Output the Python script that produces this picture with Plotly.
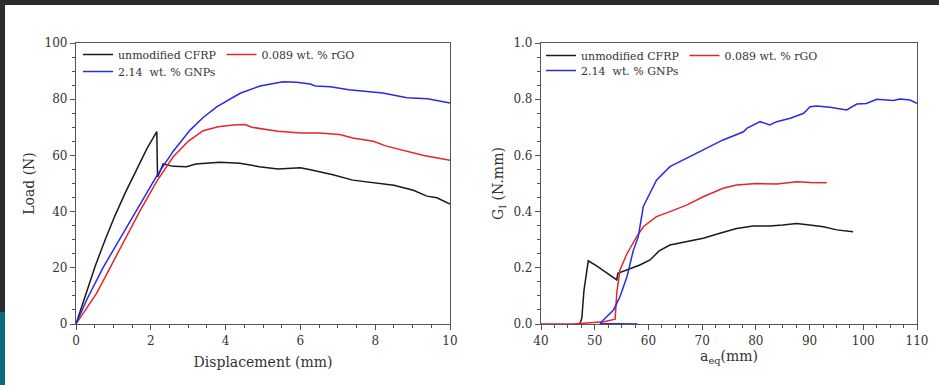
import plotly.graph_objects as go

# ---------------- data: Load vs Displacement ----------------
disp_cfrp = [0, 0.25, 0.51, 0.78, 1.04, 1.31, 1.66, 1.9, 2.16, 2.18, 2.22, 2.33, 2.6, 2.96, 3.2, 3.85,
             4.38, 4.9, 5.4, 6.0, 6.3, 6.87, 7.4, 7.95, 8.5, 9.02, 9.38, 9.65, 10.0]
load_cfrp = [0, 10, 20.5, 30, 38.5, 46.5, 56, 62.5, 68.5, 52.3, 53.5, 57.0, 56.1, 56.0, 56.9, 57.6,
             57.2, 56.0, 55.2, 55.6, 54.8, 53.1, 51.2, 50.2, 49.4, 47.6, 45.5, 44.9, 42.7]

disp_rgo = [0, 0.3, 0.55, 0.91, 1.3, 1.7, 2.17, 2.6, 3.0, 3.4, 3.8, 4.2, 4.52, 4.7, 5.4, 6.0, 6.5,
            7.05, 7.4, 7.95, 8.3, 8.84, 9.3, 10.0]
load_rgo = [0, 6.2, 10.9, 20, 30, 40, 51, 59.5, 65, 68.8, 70.2, 70.8, 71.0, 70.0, 68.6, 68.0, 68.0,
            67.4, 66.2, 65.0, 63.3, 61.4, 60.0, 58.3]

disp_gnp = [0, 0.3, 0.72, 1.2, 1.7, 2.17, 2.6, 3.05, 3.4, 3.76, 4.39, 4.92, 5.54, 5.9, 6.26, 6.4,
            6.8, 7.3, 8.2, 8.85, 9.4, 10.0]
load_gnp = [0, 9, 20, 31, 42, 53, 61.5, 69, 73.5, 77.3, 82.1, 84.7, 86.2, 86.0, 85.4, 84.7,
            84.4, 83.4, 82.2, 80.5, 80.2, 78.6]

# ---------------- data: G_I vs a_eq ----------------
aeq_cfrp = [47.2, 47.6, 48.0, 48.8, 50.5, 52.5, 54.1, 54.3, 56.0, 58.4, 60.3, 62.0, 64.0, 67.1, 70.2,
            73.3, 76.4, 79.5, 82.6, 85.0, 87.6, 90.0, 92.6, 95.05, 98.1]
gi_cfrp = [0.0, 0.02, 0.12, 0.225, 0.205, 0.18, 0.157, 0.18, 0.192, 0.21, 0.228, 0.26, 0.281, 0.293,
           0.305, 0.323, 0.34, 0.349, 0.349, 0.352, 0.358, 0.352, 0.346, 0.335, 0.328]

aeq_rgo = [40.0, 46.0, 51.7, 53.8, 54.1, 54.7, 56.0, 57.8, 59.05, 61.5, 64.0, 67.1, 70.2, 73.9, 76.4,
           80.1, 83.9, 87.6, 90.1, 93.2]
gi_rgo = [0.0, 0.0, 0.008, 0.017, 0.109, 0.192, 0.25, 0.31, 0.346, 0.382, 0.4, 0.423, 0.453, 0.483,
          0.495, 0.5, 0.498, 0.506, 0.504, 0.503]

aeq_gnp = [58.0, 51.0, 51.6, 53.5, 54.7, 56.0, 57.2, 58.1, 59.05, 61.5, 64.0, 67.1, 70.2, 73.9, 77.7,
           78.3, 80.8, 82.6, 83.9, 86.4, 88.9, 90.1, 91.3, 93.8, 96.9, 98.8, 100.6, 102.5, 105.6,
           106.8, 108.7, 110.0]
gi_gnp = [0.0, 0.002, 0.014, 0.05, 0.097, 0.168, 0.263, 0.31, 0.418, 0.512, 0.56, 0.59, 0.62, 0.655,
          0.684, 0.696, 0.72, 0.708, 0.72, 0.732, 0.75, 0.773, 0.776, 0.771, 0.762, 0.783, 0.785,
          0.8, 0.795, 0.801, 0.797, 0.785]

names = ["unmodified CFRP", "0.089 wt. % rGO", "2.14  wt. % GNPs"]
colors = ["#1a1a1a", "#e8242a", "#2a2ae6"]

FONT = "DejaVu Serif"
TXT = "#333333"
AX = "#555555"

fig = go.Figure()
left = [(disp_cfrp, load_cfrp), (disp_rgo, load_rgo), (disp_gnp, load_gnp)]
right = [(aeq_cfrp, gi_cfrp), (aeq_rgo, gi_rgo), (aeq_gnp, gi_gnp)]
left_leg = ["legend", "legend", "legend2"]
right_leg = ["legend3", "legend3", "legend4"]
for i, (xs, ys) in enumerate(left):
    fig.add_trace(go.Scatter(x=xs, y=ys, mode="lines", name=names[i],
                             line=dict(color=colors[i], width=1.5),
                             xaxis="x", yaxis="y", legend=left_leg[i]))
for i, (xs, ys) in enumerate(right):
    fig.add_trace(go.Scatter(x=xs, y=ys, mode="lines", name=names[i],
                             line=dict(color=colors[i], width=1.5),
                             xaxis="x2", yaxis="y2", legend=right_leg[i]))

W, H = 939, 385
L, R, T, B = 76, 22, 43, 61
pw = W - L - R
ph = H - T - B

def px_x(p):
    return (p - L) / pw

def px_y(p):
    return (H - B - p) / ph

axis_common = dict(showline=True, linecolor=AX, linewidth=1.2, mirror=True,
                   ticks="outside", ticklen=5, tickcolor=AX, tickwidth=1,
                   showgrid=False, zeroline=False,
                   tickfont=dict(family=FONT, size=12, color=TXT))

fig.update_layout(
    width=W, height=H,
    margin=dict(l=L, r=R, t=T, b=B),
    paper_bgcolor="white", plot_bgcolor="white",
    font=dict(family=FONT, color=TXT),
    xaxis=dict(domain=[0, px_x(450)], range=[0, 10], dtick=2,
               minor=dict(dtick=0.5, ticks="outside", ticklen=3, tickcolor=AX),
               title=dict(text="Displacement (mm)", font=dict(family=FONT, size=14, color=TXT), standoff=10),
               anchor="y", **axis_common),
    yaxis=dict(domain=[0, 1], range=[0, 100], dtick=20,
               minor=dict(dtick=5, ticks="outside", ticklen=3, tickcolor=AX),
               title=dict(text="Load (N)", font=dict(family=FONT, size=14, color=TXT), standoff=6),
               anchor="x", **axis_common),
    xaxis2=dict(domain=[px_x(541), 1], range=[40, 110], dtick=10,
                minor=dict(dtick=2.5, ticks="outside", ticklen=3, tickcolor=AX),
                title=dict(text="a<sub>eq</sub>(mm)", font=dict(family=FONT, size=14, color=TXT), standoff=4),
                anchor="y2", **axis_common),
    yaxis2=dict(domain=[0, 1], range=[0, 1.0], dtick=0.2, tickformat=".1f",
                minor=dict(dtick=0.05, ticks="outside", ticklen=3, tickcolor=AX),
                title=dict(text="G<sub>I</sub> (N.mm)", font=dict(family=FONT, size=14, color=TXT), standoff=6),
                anchor="x2", **axis_common),
    showlegend=True,
)

leg_common = dict(orientation="h", bgcolor="rgba(0,0,0,0)", borderwidth=0,
                  font=dict(family=FONT, size=11, color=TXT),
                  xanchor="left", yanchor="top", itemclick=False, tracegroupgap=0)
fig.update_layout(
    legend=dict(x=px_x(78), y=px_y(40), **leg_common),
    legend2=dict(x=px_x(78), y=px_y(57), **leg_common),
    legend3=dict(x=px_x(541), y=px_y(41), **leg_common),
    legend4=dict(x=px_x(541), y=px_y(56), **leg_common),
)

# screenshot frame: dark top band and left strip (teal at bottom)
dark = "#2c2c2c"
teal = "#0d6b7e"
fig.add_shape(type="rect", xref="paper", yref="paper", x0=px_x(0), x1=px_x(W), y0=px_y(5), y1=px_y(0),
              fillcolor=dark, line_width=0, layer="below")
fig.add_shape(type="rect", xref="paper", yref="paper", x0=px_x(0), x1=px_x(5), y0=px_y(312), y1=px_y(0),
              fillcolor=dark, line_width=0, layer="below")
fig.add_shape(type="rect", xref="paper", yref="paper", x0=px_x(0), x1=px_x(5), y0=px_y(H), y1=px_y(312),
              fillcolor=teal, line_width=0, layer="below")

fig.write_html("out.html", config={"displayModeBar": False},
               post_script="document.body.style.margin='0';")
